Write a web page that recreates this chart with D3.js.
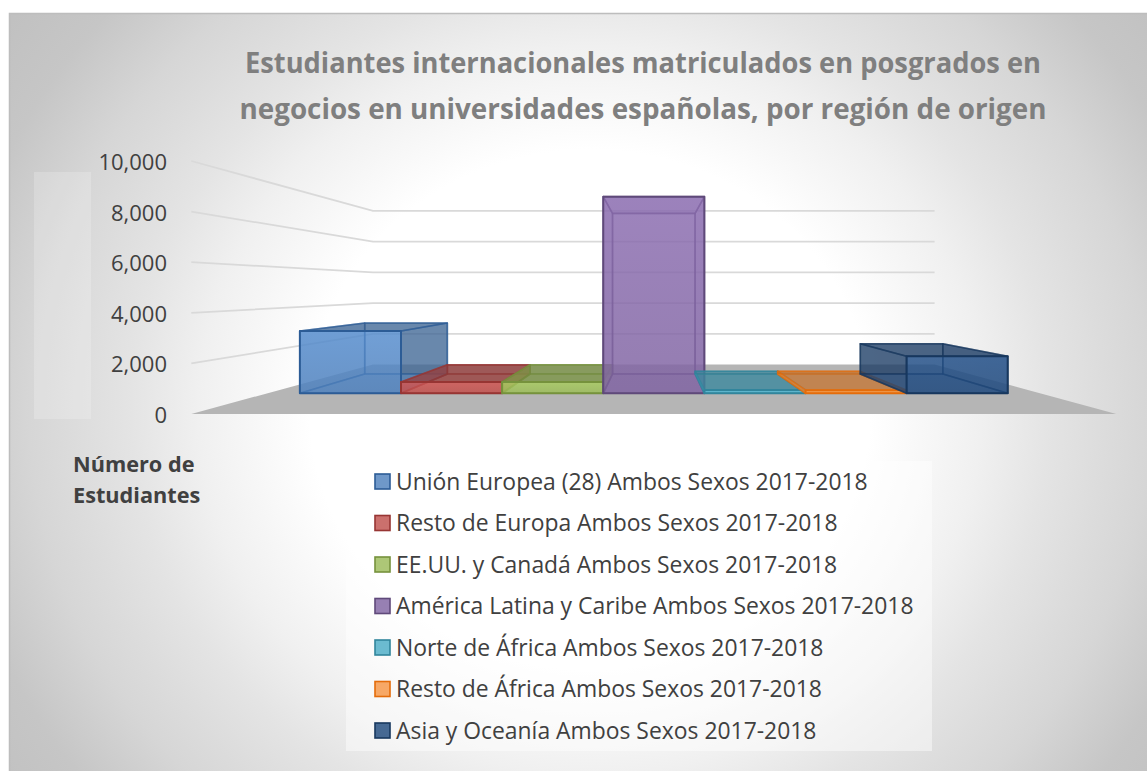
<!DOCTYPE html>
<html>
<head>
<meta charset="utf-8">
<script src="https://cdn.jsdelivr.net/npm/d3@7"></script>
<style>
  html, body { margin: 0; padding: 0; background: #fff; }
  svg { display: block; font-family: "Open Sans", "Noto Sans", sans-serif; }
</style>
</head>
<body>
<svg id="chart" width="1147" height="771"></svg>
<script>
const categories = [
  'Unión Europea (28) Ambos Sexos 2017-2018',
  'Resto de Europa Ambos Sexos 2017-2018',
  'EE.UU. y Canadá Ambos Sexos 2017-2018',
  'América Latina y Caribe Ambos Sexos 2017-2018',
  'Norte de África Ambos Sexos 2017-2018',
  'Resto de África Ambos Sexos 2017-2018',
  'Asia y Oceanía Ambos Sexos 2017-2018'
];
const values = [2950, 530, 540, 9300, 160, 150, 1750];
const colors = ['#4f81bd', '#c0504d', '#9bbb59', '#8064a2', '#4bacc6', '#f79646', '#1f497d'];
const strokes = ['#2c5c96', '#973533', '#76923c', '#5f497a', '#31859c', '#e46c0a', '#17375e'];
const yTicks = [0, 2000, 4000, 6000, 8000, 10000];
const titleLines = [
  'Estudiantes internacionales matriculados en posgrados en',
  'negocios en universidades españolas, por región de origen'
];
const axisTitle = ['Número de', 'Estudiantes'];

const svg = d3.select('#chart');
const defs = svg.append('defs');

// background: white in the middle going to grey at the edges
const bg = defs.append('radialGradient')
  .attr('id', 'bg')
  .attr('gradientUnits', 'userSpaceOnUse')
  .attr('cx', 0).attr('cy', 0).attr('r', 1)
  .attr('gradientTransform', 'translate(590,410) scale(728,676)');
[
  [0, '#ffffff'], [0.385, '#ffffff'], [0.538, '#f0f0f0'], [0.592, '#e9e9e9'], [0.63, '#e4e4e4'],
  [0.708, '#dcdcdc'], [0.77, '#d6d6d6'], [0.885, '#c6c6c6'], [1, '#c0c0c0']
].forEach(s => {
  bg.append('stop').attr('offset', s[0]).attr('stop-color', s[1]);
});

svg.append('rect').attr('x', 9).attr('y', 13).attr('width', 1138).attr('height', 758)
  .attr('fill', 'url(#bg)');
svg.append('path').attr('d', 'M9.5,771V13.5H1147').attr('fill', 'none')
  .attr('stroke', '#bdbdbd').attr('stroke-width', 1.5);

// --------- perspective ---------
const horizon = 288;
const frontY = 414;   // floor, front edge
const backY = 364.5;  // floor, back edge
const barFrontY = 393.3;
const barBackY = 374;
const centerX = 653.8;

const depthScale = fy => (fy - horizon) / (frontY - horizon);

// value -> height on the front plane of the box
const y = d3.scaleLinear().domain([0, 10000]).range([0, 253]);
// band across the floor, in front plane pixels
const x = d3.scaleBand().domain(categories).range([-423.5, 423.5]);

const project = (px, value, fy) => {
  const s = depthScale(fy);
  return [centerX + px * s, fy - y(value) * s];
};
const line = pts => 'M' + pts.map(p => p.map(v => v.toFixed(2)).join(',')).join('L') + 'Z';

// front faces fade a little lighter towards the top
categories.forEach((d, i) => {
  const grad = defs.append('linearGradient')
    .attr('id', 'front' + i)
    .attr('x1', 0).attr('y1', 0).attr('x2', 0).attr('y2', 1);
  grad.append('stop').attr('offset', 0).attr('stop-color', d3.color(colors[i]).brighter(0.3).formatHex());
  grad.append('stop').attr('offset', 1).attr('stop-color', colors[i]);
});

// --------- text boxes behind labels ---------
svg.append('rect').attr('x', 34).attr('y', 172).attr('width', 57).attr('height', 247)
  .attr('fill', '#fff').attr('opacity', 0.2);
svg.append('rect').attr('x', 346).attr('y', 461).attr('width', 586).attr('height', 290)
  .attr('fill', '#fff').attr('opacity', 0.45);

// --------- walls and floor ---------
const floorHalf = 462.5;
svg.append('path')
  .attr('d', line([
    project(-floorHalf, 0, frontY), project(floorHalf, 0, frontY),
    project(floorHalf, 0, backY), project(-floorHalf, 0, backY)
  ]))
  .attr('fill', '#b5b5b5');

svg.append('g').selectAll('path')
  .data(yTicks.filter(d => d > 0))
  .join('path')
  .attr('d', d => {
    const a = project(-floorHalf, d, frontY);
    const b = project(-floorHalf, d, backY);
    const c = project(floorHalf, d, backY);
    return `M${a}L${b}L${c}`;
  })
  .attr('fill', 'none')
  .attr('stroke', '#d9d9d9')
  .attr('stroke-width', 1.8);

// --------- bars ---------
const barGroups = svg.append('g').selectAll('g')
  .data(categories)
  .join('g');

barGroups.each(function (d, i) {
  const g = d3.select(this);
  const x0 = x(d);
  const x1 = x0 + x.bandwidth();
  const v = values[i];

  const fbl = project(x0, 0, barFrontY), fbr = project(x1, 0, barFrontY);
  const ftl = project(x0, v, barFrontY), ftr = project(x1, v, barFrontY);
  const bbl = project(x0, 0, barBackY), bbr = project(x1, 0, barBackY);
  const btl = project(x0, v, barBackY), btr = project(x1, v, barBackY);

  // faces seen from the outside are darker than the ones seen through the box
  const leftOuter = bbl[0] < fbl[0];
  const rightOuter = bbr[0] > fbr[0];
  const topOuter = btl[1] < ftl[1];

  const base = colors[i];
  const dark = d3.color(base).darker(1).formatHex();

  const faces = [
    { pts: [bbl, bbr, btr, btl], fill: base, op: 0.5 },
    { pts: [fbl, bbl, btl, ftl], fill: leftOuter ? dark : base, op: 0.55 },
    { pts: [fbr, bbr, btr, ftr], fill: rightOuter ? dark : base, op: 0.55 },
    { pts: [fbl, fbr, bbr, bbl], fill: base, op: 0.55 },
    { pts: [ftl, ftr, btr, btl], fill: topOuter ? dark : base, op: 0.55 },
    { pts: [fbl, fbr, ftr, ftl], fill: `url(#front${i})`, op: 0.68 }
  ];

  g.selectAll('path')
    .data(faces)
    .join('path')
    .attr('d', f => line(f.pts))
    .attr('fill', f => f.fill)
    .attr('fill-opacity', f => f.op)
    .attr('stroke', strokes[i])
    .attr('stroke-opacity', (f, j) => j === 5 ? 1 : 0.6)
    .attr('stroke-width', (f, j) => j === 5 ? 2 : 1.6)
    .attr('stroke-linejoin', 'round');
});

// --------- axis labels ---------
svg.append('g').selectAll('text')
  .data(yTicks)
  .join('text')
  .attr('x', 167)
  .attr('y', d => frontY - y(d) + 9)
  .attr('text-anchor', 'end')
  .attr('font-size', 22)
  .attr('fill', '#404040')
  .text(d3.format(','));

svg.append('g').selectAll('text')
  .data(axisTitle)
  .join('text')
  .attr('x', 73)
  .attr('y', (d, i) => 472 + i * 31)
  .attr('font-size', 21.7)
  .attr('font-weight', 700)
  .attr('fill', '#404040')
  .text(d => d);

// --------- title ---------
const titleLength = [796, 807];
svg.append('g').selectAll('text')
  .data(titleLines)
  .join('text')
  .attr('x', 643)
  .attr('y', (d, i) => 73 + i * 46)
  .attr('text-anchor', 'middle')
  .attr('font-size', 28)
  .attr('font-weight', 700)
  .attr('fill', '#7f7f7f')
  .attr('textLength', (d, i) => titleLength[i])
  .attr('lengthAdjust', 'spacingAndGlyphs')
  .text(d => d);

// --------- legend ---------
const legendY = d3.scalePoint().domain(categories).range([481, 730]);
const legend = svg.append('g').selectAll('g')
  .data(categories)
  .join('g')
  .attr('transform', d => `translate(375,${legendY(d)})`);

legend.append('rect')
  .attr('x', 0).attr('y', -7).attr('width', 15).attr('height', 15)
  .attr('fill', (d, i) => colors[i])
  .attr('fill-opacity', 0.82)
  .attr('stroke', (d, i) => strokes[i])
  .attr('stroke-width', 1.6);

legend.append('text')
  .attr('x', 21)
  .attr('y', 8.5)
  .attr('font-size', 22.9)
  .attr('fill', '#404040')
  .text(d => d);
</script>
</body>
</html>
